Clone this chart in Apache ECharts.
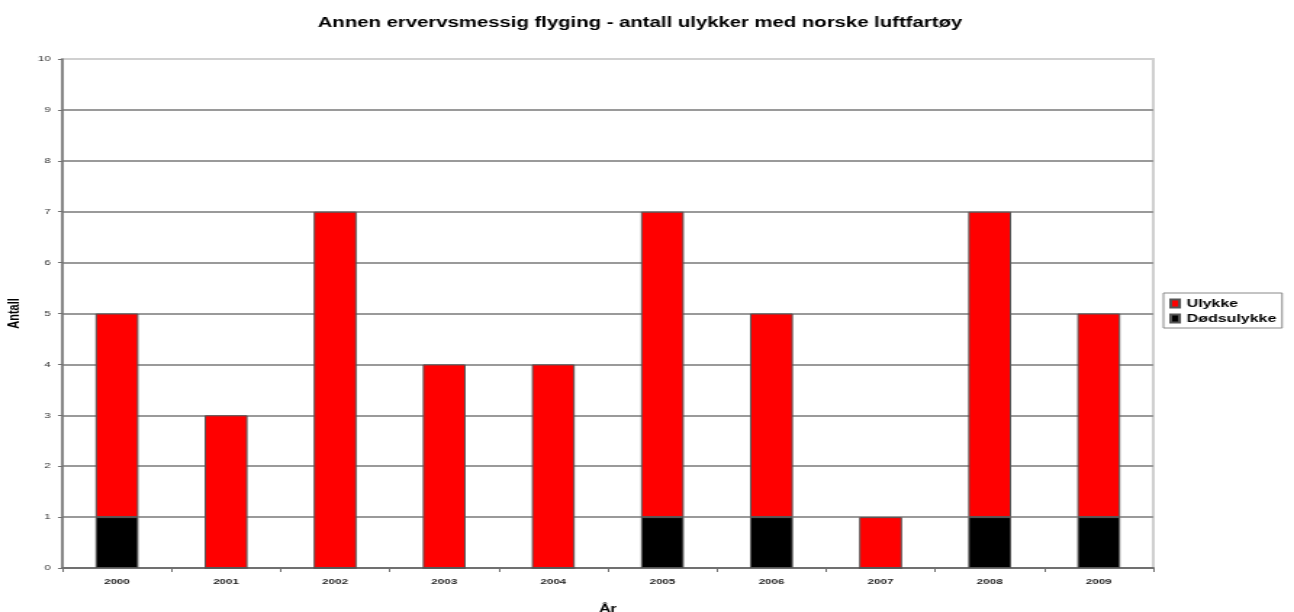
<!DOCTYPE html>
<html>
<head>
<meta charset="utf-8">
<script src="https://cdn.jsdelivr.net/npm/echarts@6/dist/echarts.min.js"></script>
<style>
  html, body { margin: 0; padding: 0; background: #fff; overflow: hidden; width: 1294px; height: 612px; }
  /* the chart is laid out narrow and widened to the page, giving the wide lettering */
  #chart { width: 892px; height: 612px; transform: scaleX(1.4507); transform-origin: 0 0; }
</style>
</head>
<body>
<div id="chart"></div>
<script>
// Accidents per year, split into fatal and non-fatal
const years = ['2000', '2001', '2002', '2003', '2004', '2005', '2006', '2007', '2008', '2009'];
const fatal = [1, 0, 0, 0, 0, 1, 1, 0, 1, 1];      // Dødsulykke
const nonFatal = [4, 3, 7, 4, 4, 6, 4, 1, 6, 4];   // Ulykke
const yTicks = [0, 1, 2, 3, 4, 5, 6, 7, 8, 9, 10];

const font = 'Liberation Sans, Arial, sans-serif';
const chart = echarts.init(document.getElementById('chart'));

// top gridline doubles as the lighter plot-area border
const gridColors = yTicks.map(function (v) { return v === 10 ? '#d0d0d0' : '#9a9a9a'; });

chart.setOption({
  animation: false,
  backgroundColor: '#fff',
  title: {
    text: 'Annen ervervsmessig flyging - antall ulykker med norske luftfartøy',
    left: 214,
    top: 11,
    textStyle: { fontFamily: font, fontSize: 14, fontWeight: 'bold', color: '#000' }
  },
  legend: {
    orient: 'vertical',
    left: 802,
    top: 293,
    data: ['Ulykke', 'Dødsulykke'],
    itemWidth: 6,
    itemHeight: 8,
    itemGap: 4,
    padding: [5, 4, 4, 4],
    borderColor: '#888',
    borderWidth: 1,
    icon: 'rect',
    textStyle: { fontFamily: font, fontSize: 11, fontWeight: 'bold', color: '#000', padding: [0, 0, 0, 0] }
  },
  grid: {
    left: 43, right: 97, top: 59, bottom: 44,
    outerBoundsMode: 'none',
    show: true,
    borderColor: '#d0d0d0',
    borderWidth: 2
  },
  xAxis: {
    type: 'category',
    data: years,
    name: 'År',
    nameLocation: 'middle',
    nameGap: 35,
    nameTextStyle: { fontFamily: font, fontSize: 11, fontWeight: 'bold', color: '#000' },
    axisLine: { lineStyle: { color: '#707070', width: 2 } },
    axisTick: { show: true, alignWithLabel: false, length: 4, lineStyle: { color: '#707070' } },
    axisLabel: { fontFamily: font, fontSize: 8, fontWeight: 'bold', color: '#222', margin: 10 },
    splitLine: { show: false }
  },
  yAxis: {
    type: 'value',
    min: 0,
    max: 10,
    interval: 1,
    name: 'Antall',
    nameLocation: 'middle',
    nameRotate: 90,
    nameGap: 26,
    nameTextStyle: { fontFamily: font, fontSize: 11, fontWeight: 'bold', color: '#000' },
    axisLine: { show: true, lineStyle: { color: '#707070', width: 1.5 } },
    axisTick: { show: true, length: 3, lineStyle: { color: '#707070' } },
    axisLabel: { fontFamily: font, fontSize: 8, color: '#333', margin: 8 },
    splitLine: { show: true, lineStyle: { color: gridColors, width: 2 } }
  },
  series: [
    {
      name: 'Dødsulykke',
      type: 'bar',
      stack: 'total',
      data: fatal,
      barWidth: 29.6,
      itemStyle: { color: '#000000', borderColor: '#555', borderWidth: 1 }
    },
    {
      name: 'Ulykke',
      type: 'bar',
      stack: 'total',
      data: nonFatal,
      barWidth: 29.6,
      itemStyle: { color: '#ff0000', borderColor: '#555', borderWidth: 1 }
    }
  ]
});
</script>
</body>
</html>
